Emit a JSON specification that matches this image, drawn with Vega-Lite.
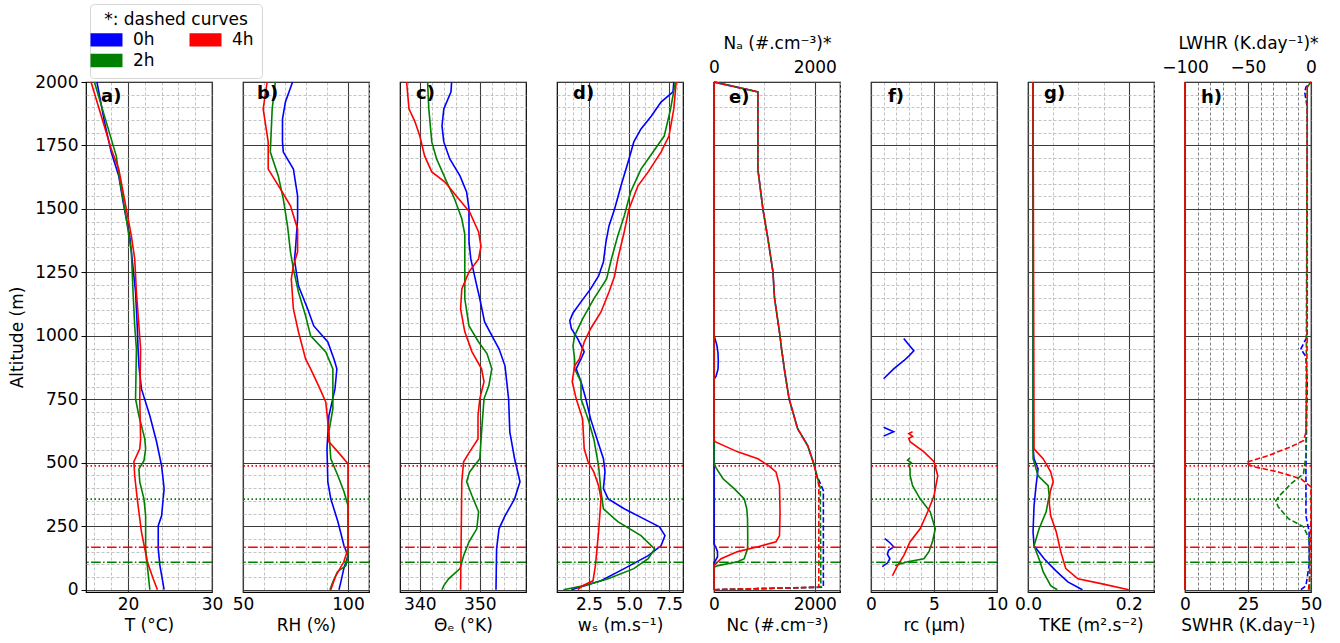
{
  "$schema": "https://vega.github.io/schema/vega-lite/v6.json",
  "padding": {"left": 8, "top": 3, "right": 4, "bottom": 4},
  "spacing": 31,
  "bounds": "flush",
  "datasets": {
    "T": [
      {"t":"0h","z":2000,"v":16.3},{"t":"0h","z":1843,"v":17.2},{"t":"0h","z":1724,"v":18.0},{"t":"0h","z":1630,"v":18.9},{"t":"0h","z":1512,"v":19.5},{"t":"0h","z":1394,"v":20.2},{"t":"0h","z":1300,"v":20.5},{"t":"0h","z":1173,"v":20.9},{"t":"0h","z":1039,"v":21.1},{"t":"0h","z":949,"v":21.2},{"t":"0h","z":882,"v":21.3},{"t":"0h","z":791,"v":21.6},{"t":"0h","z":685,"v":22.6},{"t":"0h","z":583,"v":23.4},{"t":"0h","z":488,"v":24.0},{"t":"0h","z":398,"v":24.3},{"t":"0h","z":291,"v":24.0},{"t":"0h","z":252,"v":23.6},{"t":"0h","z":161,"v":23.6},{"t":"0h","z":95,"v":23.8},{"t":"0h","z":0,"v":24.3},
      {"t":"2h","z":2000,"v":16.0},{"t":"2h","z":1709,"v":18.6},{"t":"2h","z":1618,"v":19.0},{"t":"2h","z":1461,"v":19.8},{"t":"2h","z":1331,"v":20.4},{"t":"2h","z":1173,"v":20.6},{"t":"2h","z":1039,"v":20.8},{"t":"2h","z":949,"v":21.0},{"t":"2h","z":752,"v":20.9},{"t":"2h","z":685,"v":21.3},{"t":"2h","z":594,"v":22.0},{"t":"2h","z":555,"v":22.1},{"t":"2h","z":508,"v":21.9},{"t":"2h","z":476,"v":21.3},{"t":"2h","z":425,"v":21.4},{"t":"2h","z":358,"v":21.9},{"t":"2h","z":291,"v":22.1},{"t":"2h","z":161,"v":22.1},{"t":"2h","z":95,"v":22.3},{"t":"2h","z":0,"v":22.6},
      {"t":"4h","z":2000,"v":15.6},{"t":"4h","z":1736,"v":18.0},{"t":"4h","z":1657,"v":18.9},{"t":"4h","z":1500,"v":19.8},{"t":"4h","z":1394,"v":20.4},{"t":"4h","z":1303,"v":20.8},{"t":"4h","z":1173,"v":21.0},{"t":"4h","z":1039,"v":21.3},{"t":"4h","z":949,"v":21.5},{"t":"4h","z":752,"v":21.4},{"t":"4h","z":594,"v":21.5},{"t":"4h","z":555,"v":21.4},{"t":"4h","z":504,"v":20.7},{"t":"4h","z":449,"v":20.8},{"t":"4h","z":358,"v":21.1},{"t":"4h","z":228,"v":21.6},{"t":"4h","z":161,"v":22.0},{"t":"4h","z":110,"v":22.3},{"t":"4h","z":43,"v":23.0},{"t":"4h","z":0,"v":23.5}
    ],
    "RH": [
      {"t":"0h","z":2000,"v":73.6},{"t":"0h","z":1921,"v":70.2},{"t":"0h","z":1854,"v":68.8},{"t":"0h","z":1764,"v":68.8},{"t":"0h","z":1724,"v":69.2},{"t":"0h","z":1657,"v":74.0},{"t":"0h","z":1551,"v":76.0},{"t":"0h","z":1461,"v":76.0},{"t":"0h","z":1343,"v":75.0},{"t":"0h","z":1300,"v":74.5},{"t":"0h","z":1197,"v":76.4},{"t":"0h","z":1106,"v":80.8},{"t":"0h","z":1039,"v":83.7},{"t":"0h","z":976,"v":90.4},{"t":"0h","z":909,"v":93.3},{"t":"0h","z":870,"v":94.7},{"t":"0h","z":791,"v":93.8},{"t":"0h","z":685,"v":90.9},{"t":"0h","z":555,"v":90.0},{"t":"0h","z":425,"v":90.4},{"t":"0h","z":358,"v":91.8},{"t":"0h","z":268,"v":95.2},{"t":"0h","z":173,"v":98.1},{"t":"0h","z":134,"v":100},{"t":"0h","z":83,"v":98},{"t":"0h","z":31,"v":96.6},{"t":"0h","z":0,"v":95.7},
      {"t":"2h","z":2000,"v":65.4},{"t":"2h","z":1894,"v":63.9},{"t":"2h","z":1724,"v":63.0},{"t":"2h","z":1630,"v":66.8},{"t":"2h","z":1539,"v":69.2},{"t":"2h","z":1433,"v":71.2},{"t":"2h","z":1331,"v":72.6},{"t":"2h","z":1264,"v":74.0},{"t":"2h","z":1173,"v":76.4},{"t":"2h","z":1079,"v":79.8},{"t":"2h","z":1000,"v":82.2},{"t":"2h","z":937,"v":89.4},{"t":"2h","z":870,"v":92.8},{"t":"2h","z":713,"v":92.8},{"t":"2h","z":622,"v":90.9},{"t":"2h","z":516,"v":91.8},{"t":"2h","z":449,"v":95.2},{"t":"2h","z":386,"v":98.1},{"t":"2h","z":331,"v":100},{"t":"2h","z":134,"v":100},{"t":"2h","z":95,"v":99},{"t":"2h","z":71,"v":95},{"t":"2h","z":31,"v":92.8},{"t":"2h","z":0,"v":91.4},
      {"t":"4h","z":2000,"v":61.5},{"t":"4h","z":1894,"v":59.6},{"t":"4h","z":1764,"v":62.0},{"t":"4h","z":1657,"v":62.0},{"t":"4h","z":1579,"v":67.8},{"t":"4h","z":1512,"v":72.6},{"t":"4h","z":1421,"v":76.0},{"t":"4h","z":1331,"v":76.0},{"t":"4h","z":1276,"v":74.0},{"t":"4h","z":1224,"v":73.0},{"t":"4h","z":1106,"v":74.0},{"t":"4h","z":1016,"v":76.4},{"t":"4h","z":909,"v":79.8},{"t":"4h","z":870,"v":82.2},{"t":"4h","z":803,"v":86.0},{"t":"4h","z":740,"v":89.4},{"t":"4h","z":661,"v":90.4},{"t":"4h","z":583,"v":90.9},{"t":"4h","z":543,"v":95.2},{"t":"4h","z":496,"v":100},{"t":"4h","z":161,"v":100},{"t":"4h","z":110,"v":98},{"t":"4h","z":55,"v":94.2},{"t":"4h","z":0,"v":91.8}
    ],
    "THE": [
      {"t":"0h","z":2000,"v":345.3},{"t":"0h","z":1961,"v":345.2},{"t":"0h","z":1894,"v":344.0},{"t":"0h","z":1827,"v":343.7},{"t":"0h","z":1764,"v":344.0},{"t":"0h","z":1697,"v":345.0},{"t":"0h","z":1630,"v":346.7},{"t":"0h","z":1567,"v":347.8},{"t":"0h","z":1500,"v":348.2},{"t":"0h","z":1370,"v":348.2},{"t":"0h","z":1303,"v":348.5},{"t":"0h","z":1197,"v":349.5},{"t":"0h","z":1146,"v":350.0},{"t":"0h","z":1055,"v":350.8},{"t":"0h","z":988,"v":352.3},{"t":"0h","z":949,"v":353.2},{"t":"0h","z":882,"v":354.2},{"t":"0h","z":752,"v":354.8},{"t":"0h","z":622,"v":355.0},{"t":"0h","z":516,"v":355.8},{"t":"0h","z":425,"v":356.7},{"t":"0h","z":358,"v":355.8},{"t":"0h","z":291,"v":354.2},{"t":"0h","z":240,"v":353.2},{"t":"0h","z":161,"v":352.8},{"t":"0h","z":0,"v":352.7},
      {"t":"2h","z":2000,"v":341.3},{"t":"2h","z":1894,"v":341.5},{"t":"2h","z":1764,"v":342.0},{"t":"2h","z":1697,"v":342.8},{"t":"2h","z":1606,"v":344.5},{"t":"2h","z":1539,"v":345.8},{"t":"2h","z":1461,"v":347.0},{"t":"2h","z":1400,"v":347.5},{"t":"2h","z":1276,"v":347.5},{"t":"2h","z":1146,"v":347.5},{"t":"2h","z":1039,"v":348.2},{"t":"2h","z":976,"v":349.8},{"t":"2h","z":930,"v":351.2},{"t":"2h","z":870,"v":352.0},{"t":"2h","z":803,"v":351.5},{"t":"2h","z":752,"v":350.7},{"t":"2h","z":622,"v":350.3},{"t":"2h","z":516,"v":350.0},{"t":"2h","z":464,"v":348.3},{"t":"2h","z":425,"v":347.8},{"t":"2h","z":370,"v":348.7},{"t":"2h","z":307,"v":349.8},{"t":"2h","z":240,"v":349.5},{"t":"2h","z":189,"v":348.2},{"t":"2h","z":134,"v":347.3},{"t":"2h","z":83,"v":346.7},{"t":"2h","z":43,"v":344.8},{"t":"2h","z":16,"v":344.0},{"t":"2h","z":0,"v":343.7},
      {"t":"4h","z":2000,"v":337.8},{"t":"4h","z":1894,"v":338.2},{"t":"4h","z":1843,"v":339.2},{"t":"4h","z":1787,"v":340.0},{"t":"4h","z":1709,"v":340.8},{"t":"4h","z":1646,"v":342.0},{"t":"4h","z":1606,"v":344.2},{"t":"4h","z":1539,"v":346.5},{"t":"4h","z":1488,"v":348.3},{"t":"4h","z":1409,"v":349.8},{"t":"4h","z":1354,"v":350.2},{"t":"4h","z":1303,"v":349.8},{"t":"4h","z":1252,"v":348.2},{"t":"4h","z":1185,"v":347.0},{"t":"4h","z":1106,"v":346.8},{"t":"4h","z":1016,"v":347.5},{"t":"4h","z":937,"v":348.7},{"t":"4h","z":870,"v":350.3},{"t":"4h","z":819,"v":350.7},{"t":"4h","z":752,"v":350.0},{"t":"4h","z":685,"v":349.7},{"t":"4h","z":594,"v":349.7},{"t":"4h","z":543,"v":348.3},{"t":"4h","z":504,"v":347.3},{"t":"4h","z":425,"v":347.0},{"t":"4h","z":0,"v":346.8}
    ],
    "WS": [
      {"t":"0h","z":2000,"v":7.8},{"t":"0h","z":1961,"v":7.75},{"t":"0h","z":1921,"v":7.0},{"t":"0h","z":1866,"v":6.4},{"t":"0h","z":1815,"v":5.75},{"t":"0h","z":1764,"v":5.3},{"t":"0h","z":1697,"v":5.0},{"t":"0h","z":1591,"v":4.5},{"t":"0h","z":1500,"v":4.1},{"t":"0h","z":1433,"v":3.75},{"t":"0h","z":1370,"v":3.56},{"t":"0h","z":1291,"v":3.4},{"t":"0h","z":1236,"v":3.1},{"t":"0h","z":1185,"v":2.6},{"t":"0h","z":1134,"v":2.0},{"t":"0h","z":1090,"v":1.5},{"t":"0h","z":1060,"v":1.3},{"t":"0h","z":1028,"v":1.4},{"t":"0h","z":988,"v":1.8},{"t":"0h","z":937,"v":2.2},{"t":"0h","z":909,"v":2.0},{"t":"0h","z":870,"v":1.7},{"t":"0h","z":819,"v":2.0},{"t":"0h","z":752,"v":2.3},{"t":"0h","z":673,"v":2.6},{"t":"0h","z":594,"v":3.0},{"t":"0h","z":516,"v":3.4},{"t":"0h","z":464,"v":3.5},{"t":"0h","z":398,"v":3.4},{"t":"0h","z":358,"v":3.7},{"t":"0h","z":319,"v":4.7},{"t":"0h","z":280,"v":5.9},{"t":"0h","z":248,"v":6.9},{"t":"0h","z":213,"v":7.25},{"t":"0h","z":173,"v":7.0},{"t":"0h","z":134,"v":6.2},{"t":"0h","z":83,"v":4.7},{"t":"0h","z":35,"v":3.25},{"t":"0h","z":12,"v":2.0},{"t":"0h","z":0,"v":1.4},
      {"t":"2h","z":2000,"v":7.9},{"t":"2h","z":1894,"v":7.6},{"t":"2h","z":1787,"v":7.2},{"t":"2h","z":1724,"v":6.5},{"t":"2h","z":1657,"v":5.75},{"t":"2h","z":1567,"v":5.1},{"t":"2h","z":1472,"v":4.7},{"t":"2h","z":1394,"v":4.3},{"t":"2h","z":1303,"v":3.9},{"t":"2h","z":1224,"v":3.6},{"t":"2h","z":1146,"v":2.8},{"t":"2h","z":1067,"v":2.1},{"t":"2h","z":1000,"v":1.6},{"t":"2h","z":961,"v":1.5},{"t":"2h","z":909,"v":1.6},{"t":"2h","z":870,"v":1.6},{"t":"2h","z":819,"v":2.0},{"t":"2h","z":752,"v":2.0},{"t":"2h","z":673,"v":2.44},{"t":"2h","z":594,"v":2.8},{"t":"2h","z":488,"v":3.1},{"t":"2h","z":386,"v":3.25},{"t":"2h","z":319,"v":3.4},{"t":"2h","z":268,"v":4.3},{"t":"2h","z":213,"v":5.75},{"t":"2h","z":161,"v":6.6},{"t":"2h","z":122,"v":6.2},{"t":"2h","z":83,"v":5.3},{"t":"2h","z":43,"v":3.7},{"t":"2h","z":16,"v":2.2},{"t":"2h","z":0,"v":0.9},
      {"t":"4h","z":2000,"v":7.95},{"t":"4h","z":1894,"v":7.8},{"t":"4h","z":1787,"v":7.5},{"t":"4h","z":1724,"v":7.0},{"t":"4h","z":1646,"v":6.2},{"t":"4h","z":1591,"v":5.56},{"t":"4h","z":1500,"v":5.0},{"t":"4h","z":1409,"v":4.7},{"t":"4h","z":1303,"v":4.3},{"t":"4h","z":1236,"v":4.1},{"t":"4h","z":1173,"v":3.75},{"t":"4h","z":1094,"v":3.25},{"t":"4h","z":1028,"v":2.6},{"t":"4h","z":976,"v":2.2},{"t":"4h","z":909,"v":1.9},{"t":"4h","z":882,"v":1.6},{"t":"4h","z":819,"v":1.45},{"t":"4h","z":752,"v":1.7},{"t":"4h","z":673,"v":2.1},{"t":"4h","z":555,"v":2.2},{"t":"4h","z":504,"v":2.44},{"t":"4h","z":464,"v":2.8},{"t":"4h","z":410,"v":3.1},{"t":"4h","z":358,"v":3.25},{"t":"4h","z":228,"v":3.1},{"t":"4h","z":95,"v":2.9},{"t":"4h","z":35,"v":2.75},{"t":"4h","z":16,"v":2.1},{"t":"4h","z":0,"v":1.8}
    ],
    "NC": [
      {"t":"0h","z":2000,"v":0},{"t":"0h","z":1000,"v":0},{"t":"0h","z":990,"v":20},{"t":"0h","z":960,"v":60},{"t":"0h","z":930,"v":80},{"t":"0h","z":900,"v":85},{"t":"0h","z":870,"v":80},{"t":"0h","z":840,"v":40},{"t":"0h","z":830,"v":0},{"t":"0h","z":180,"v":0},{"t":"0h","z":170,"v":30},{"t":"0h","z":150,"v":70},{"t":"0h","z":130,"v":70},{"t":"0h","z":115,"v":30},{"t":"0h","z":108,"v":0},{"t":"0h","z":0,"v":0},
      {"t":"2h","z":2000,"v":0},{"t":"2h","z":500,"v":0},{"t":"2h","z":480,"v":40},{"t":"2h","z":437,"v":180},{"t":"2h","z":398,"v":400},{"t":"2h","z":358,"v":600},{"t":"2h","z":319,"v":650},{"t":"2h","z":280,"v":665},{"t":"2h","z":200,"v":670},{"t":"2h","z":161,"v":665},{"t":"2h","z":122,"v":600},{"t":"2h","z":110,"v":470},{"t":"2h","z":95,"v":80},{"t":"2h","z":88,"v":0},{"t":"2h","z":0,"v":0},
      {"t":"4h","z":2000,"v":0},{"t":"4h","z":590,"v":0},{"t":"4h","z":583,"v":20},{"t":"4h","z":543,"v":470},{"t":"4h","z":516,"v":870},{"t":"4h","z":488,"v":1090},{"t":"4h","z":464,"v":1230},{"t":"4h","z":410,"v":1300},{"t":"4h","z":300,"v":1310},{"t":"4h","z":213,"v":1300},{"t":"4h","z":189,"v":1230},{"t":"4h","z":169,"v":870},{"t":"4h","z":150,"v":470},{"t":"4h","z":122,"v":140},{"t":"4h","z":95,"v":0},{"t":"4h","z":0,"v":0}
    ],
    "NA": [
      {"t":"0h","z":2000,"v":0},{"t":"0h","z":1961,"v":870},{"t":"0h","z":1657,"v":870},{"t":"0h","z":1579,"v":920},{"t":"0h","z":1500,"v":970},{"t":"0h","z":1382,"v":1070},{"t":"0h","z":1252,"v":1170},{"t":"0h","z":1150,"v":1200},{"t":"0h","z":1000,"v":1310},{"t":"0h","z":949,"v":1340},{"t":"0h","z":850,"v":1410},{"t":"0h","z":752,"v":1490},{"t":"0h","z":634,"v":1660},{"t":"0h","z":567,"v":1860},{"t":"0h","z":496,"v":1980},{"t":"0h","z":450,"v":2040},{"t":"0h","z":400,"v":2150},{"t":"0h","z":390,"v":2170},{"t":"0h","z":10,"v":2170},{"t":"0h","z":0,"v":0},
      {"t":"2h","z":2000,"v":0},{"t":"2h","z":1961,"v":870},{"t":"2h","z":1657,"v":870},{"t":"2h","z":1579,"v":920},{"t":"2h","z":1500,"v":970},{"t":"2h","z":1382,"v":1070},{"t":"2h","z":1252,"v":1170},{"t":"2h","z":1150,"v":1200},{"t":"2h","z":1000,"v":1310},{"t":"2h","z":949,"v":1340},{"t":"2h","z":850,"v":1410},{"t":"2h","z":752,"v":1490},{"t":"2h","z":634,"v":1660},{"t":"2h","z":567,"v":1860},{"t":"2h","z":496,"v":1980},{"t":"2h","z":450,"v":2040},{"t":"2h","z":400,"v":2110},{"t":"2h","z":10,"v":2120},{"t":"2h","z":0,"v":0},
      {"t":"4h","z":2000,"v":0},{"t":"4h","z":1961,"v":870},{"t":"4h","z":1657,"v":870},{"t":"4h","z":1579,"v":920},{"t":"4h","z":1500,"v":970},{"t":"4h","z":1382,"v":1070},{"t":"4h","z":1252,"v":1170},{"t":"4h","z":1150,"v":1200},{"t":"4h","z":1000,"v":1310},{"t":"4h","z":949,"v":1340},{"t":"4h","z":850,"v":1410},{"t":"4h","z":752,"v":1490},{"t":"4h","z":634,"v":1660},{"t":"4h","z":567,"v":1860},{"t":"4h","z":496,"v":1980},{"t":"4h","z":450,"v":2040},{"t":"4h","z":410,"v":2080},{"t":"4h","z":10,"v":2080},{"t":"4h","z":0,"v":0}
    ],
    "RC": [
      {"t":"0h","s":"a","z":990,"v":2.6},{"t":"0h","s":"a","z":965,"v":3.0},{"t":"0h","s":"a","z":941,"v":3.4},{"t":"0h","s":"a","z":920,"v":3.0},{"t":"0h","s":"a","z":902,"v":2.6},{"t":"0h","s":"a","z":870,"v":1.8},{"t":"0h","s":"a","z":831,"v":1.0},
      {"t":"0h","s":"b","z":640,"v":1.0},{"t":"0h","s":"b","z":622,"v":1.8},{"t":"0h","s":"b","z":605,"v":1.0},
      {"t":"0h","s":"c","z":201,"v":1.1},{"t":"0h","s":"c","z":185,"v":1.5},{"t":"0h","s":"c","z":169,"v":1.8},{"t":"0h","s":"c","z":155,"v":1.4},{"t":"0h","s":"c","z":140,"v":1.3},{"t":"0h","s":"c","z":122,"v":1.5},{"t":"0h","s":"c","z":105,"v":1.3},{"t":"0h","s":"c","z":91,"v":0.9},
      {"t":"2h","s":"a","z":520,"v":3.1},{"t":"2h","s":"a","z":510,"v":2.9},{"t":"2h","s":"a","z":500,"v":3.2},{"t":"2h","s":"a","z":490,"v":3.0},{"t":"2h","s":"a","z":476,"v":3.1},{"t":"2h","s":"a","z":450,"v":3.1},{"t":"2h","s":"a","z":410,"v":3.3},{"t":"2h","s":"a","z":358,"v":3.9},{"t":"2h","s":"a","z":307,"v":4.7},{"t":"2h","s":"a","z":240,"v":5.1},{"t":"2h","s":"a","z":193,"v":4.9},{"t":"2h","s":"a","z":150,"v":4.6},{"t":"2h","s":"a","z":122,"v":4.2},{"t":"2h","s":"a","z":110,"v":2.9},{"t":"2h","s":"a","z":95,"v":1.9},
      {"t":"4h","s":"a","z":622,"v":3.3},{"t":"4h","s":"a","z":615,"v":3.0},{"t":"4h","s":"a","z":605,"v":3.3},{"t":"4h","s":"a","z":595,"v":3.0},{"t":"4h","s":"a","z":583,"v":3.1},{"t":"4h","s":"a","z":543,"v":4.2},{"t":"4h","s":"a","z":504,"v":5.0},{"t":"4h","s":"a","z":449,"v":5.3},{"t":"4h","s":"a","z":370,"v":5.0},{"t":"4h","s":"a","z":307,"v":4.5},{"t":"4h","s":"a","z":240,"v":3.9},{"t":"4h","s":"a","z":189,"v":3.1},{"t":"4h","s":"a","z":134,"v":2.6},{"t":"4h","s":"a","z":95,"v":2.1},{"t":"4h","s":"a","z":55,"v":1.7}
    ],
    "TKE": [
      {"t":"0h","z":2000,"v":0.01},{"t":"0h","z":560,"v":0.01},{"t":"0h","z":516,"v":0.012},{"t":"0h","z":476,"v":0.02},{"t":"0h","z":410,"v":0.016},{"t":"0h","z":331,"v":0.012},{"t":"0h","z":228,"v":0.01},{"t":"0h","z":173,"v":0.012},{"t":"0h","z":122,"v":0.032},{"t":"0h","z":75,"v":0.055},{"t":"0h","z":31,"v":0.079},{"t":"0h","z":0,"v":0.108},
      {"t":"2h","z":2000,"v":0.01},{"t":"2h","z":555,"v":0.01},{"t":"2h","z":516,"v":0.01},{"t":"2h","z":449,"v":0.02},{"t":"2h","z":410,"v":0.04},{"t":"2h","z":370,"v":0.042},{"t":"2h","z":307,"v":0.036},{"t":"2h","z":240,"v":0.022},{"t":"2h","z":173,"v":0.012},{"t":"2h","z":110,"v":0.024},{"t":"2h","z":71,"v":0.03},{"t":"2h","z":16,"v":0.045},{"t":"2h","z":0,"v":0.058},
      {"t":"4h","z":2000,"v":0.01},{"t":"4h","z":555,"v":0.012},{"t":"4h","z":516,"v":0.03},{"t":"4h","z":464,"v":0.045},{"t":"4h","z":425,"v":0.05},{"t":"4h","z":386,"v":0.044},{"t":"4h","z":346,"v":0.042},{"t":"4h","z":291,"v":0.045},{"t":"4h","z":228,"v":0.056},{"t":"4h","z":150,"v":0.065},{"t":"4h","z":83,"v":0.075},{"t":"4h","z":43,"v":0.099},{"t":"4h","z":24,"v":0.145},{"t":"4h","z":0,"v":0.2}
    ],
    "SW": [
      {"t":"0h","z":2000,"v":0},{"t":"0h","z":0,"v":0},
      {"t":"2h","z":2000,"v":0},{"t":"2h","z":0,"v":0},
      {"t":"4h","z":2000,"v":0},{"t":"4h","z":0,"v":0}
    ],
    "LW": [
      {"t":"0h","z":2000,"v":0},{"t":"0h","z":1980,"v":-4},{"t":"0h","z":1960,"v":-5},{"t":"0h","z":1900,"v":-3},{"t":"0h","z":1000,"v":-3},{"t":"0h","z":988,"v":-4},{"t":"0h","z":949,"v":-8},{"t":"0h","z":917,"v":-4},{"t":"0h","z":819,"v":-3},{"t":"0h","z":488,"v":-4},{"t":"0h","z":291,"v":-4},{"t":"0h","z":228,"v":-1.5},{"t":"0h","z":97,"v":-1.5},{"t":"0h","z":16,"v":-4},{"t":"0h","z":0,"v":-8},
      {"t":"2h","z":2000,"v":0},{"t":"2h","z":1980,"v":-3},{"t":"2h","z":1900,"v":-3},{"t":"2h","z":528,"v":-4},{"t":"2h","z":457,"v":-6},{"t":"2h","z":417,"v":-16},{"t":"2h","z":370,"v":-25},{"t":"2h","z":350,"v":-28},{"t":"2h","z":327,"v":-26},{"t":"2h","z":280,"v":-18},{"t":"2h","z":248,"v":-6},{"t":"2h","z":201,"v":-1.5},{"t":"2h","z":0,"v":-1},
      {"t":"4h","z":2000,"v":0},{"t":"4h","z":1980,"v":-3},{"t":"4h","z":1000,"v":-3},{"t":"4h","z":620,"v":-4},{"t":"4h","z":587,"v":-6},{"t":"4h","z":563,"v":-16},{"t":"4h","z":528,"v":-34},{"t":"4h","z":504,"v":-50},{"t":"4h","z":496,"v":-51},{"t":"4h","z":484,"v":-45},{"t":"4h","z":464,"v":-26},{"t":"4h","z":437,"v":-8},{"t":"4h","z":405,"v":0},{"t":"4h","z":307,"v":0},{"t":"4h","z":200,"v":-0.5},{"t":"4h","z":50,"v":-1},{"t":"4h","z":0,"v":-2}
    ],
    "cloud": [
      {"t":"4h","k":"top","z":488},
      {"t":"2h","k":"top","z":357},
      {"t":"4h","k":"base","z":167},
      {"t":"2h","k":"base","z":108}
    ]
  },
  "hconcat": [
    {
      "width": 126, "height": 510,
      "title": {"text": "a)", "anchor": "start", "frame": "group", "dx": 15, "offset": -33, "baseline": "top", "fontSize": 18, "fontWeight": "bold"},
      "layer": [
        {
          "data": {"name": "T"},
          "mark": "line",
          "encoding": {
            "x": {"field": "v", "type": "quantitative", "scale": {"domain": [15, 30], "nice": false, "zero": false},
              "axis": {"title": "T (°C)", "values": [16, 18, 20, 22, 24, 26, 28, 30], "format": "d",
                "labelExpr": "datum.value % 10 === 0 ? datum.label : ''",
                "gridColor": {"condition": {"test": "datum.value % 10 === 0", "value": "#3c3c3c"}, "value": "#b4b4b4"},
                "gridDash": {"condition": {"test": "datum.value % 10 === 0", "value": []}, "value": [3, 2]},
                "gridWidth": {"condition": {"test": "datum.value % 10 === 0", "value": 1.1}, "value": 0.8}}},
            "y": {"field": "z", "type": "quantitative", "scale": {"domain": [-9, 2000], "nice": false, "zero": false},
              "axis": {"title": "Altitude (m)", "values": [0,50,100,150,200,250,300,350,400,450,500,550,600,650,700,750,800,850,900,950,1000,1050,1100,1150,1200,1250,1300,1350,1400,1450,1500,1550,1600,1650,1700,1750,1800,1850,1900,1950,2000],
                "format": "d", "labelExpr": "datum.value % 250 === 0 ? datum.label : ''",
                "ticks": true, "tickSize": 5, "tickColor": "black",
                "tickOpacity": {"condition": {"test": "datum.value % 250 === 0", "value": 1}, "value": 0},
                "labelPadding": 3, "titlePadding": 8,
                "gridColor": {"condition": {"test": "datum.value % 250 === 0", "value": "#3c3c3c"}, "value": "#b4b4b4"},
                "gridDash": {"condition": {"test": "datum.value % 250 === 0", "value": []}, "value": [3, 2]},
                "gridWidth": {"condition": {"test": "datum.value % 250 === 0", "value": 1.1}, "value": 0.8}}},
            "color": {"field": "t", "type": "nominal", "scale": {"domain": ["0h", "2h", "4h"], "range": ["blue", "green", "red"]},
              "legend": {"title": "*: dashed curves", "orient": "none", "legendX": 4, "legendY": -78, "columns": 2,
                "symbolType": "M-5.333,-2H5.333M-5.333,-1.667H5.333M-5.333,-1.333H5.333M-5.333,-1H5.333M-5.333,-0.667H5.333M-5.333,-0.333H5.333M-5.333,0H5.333M-5.333,0.333H5.333M-5.333,0.667H5.333M-5.333,1H5.333M-5.333,1.333H5.333M-5.333,1.667H5.333M-5.333,2H5.333",
                "symbolSize": 36, "symbolStrokeWidth": 1.3,
                "labelFontSize": 17, "titleFontSize": 17, "titleFontWeight": "normal", "titleAnchor": "middle",
                "labelOffset": 18, "columnPadding": 31, "rowPadding": 2, "titlePadding": 2, "padding": 8,
                "fillColor": "white", "strokeColor": "#d6d6d6", "cornerRadius": 4, "labelColor": "black", "titleColor": "black"}},
            "strokeWidth": {"value": 1.6},
            "order": {"field": "z", "type": "quantitative"}
          }
        },
        {
          "data": {"name": "cloud"},
          "mark": {"type": "rule", "strokeWidth": 1.6},
          "encoding": {
            "y": {"field": "z", "type": "quantitative", "scale": {"domain": [-9, 2000], "nice": false, "zero": false},
              "axis": {"title": "Altitude (m)", "values": [0,50,100,150,200,250,300,350,400,450,500,550,600,650,700,750,800,850,900,950,1000,1050,1100,1150,1200,1250,1300,1350,1400,1450,1500,1550,1600,1650,1700,1750,1800,1850,1900,1950,2000],
                "format": "d", "labelExpr": "datum.value % 250 === 0 ? datum.label : ''",
                "ticks": true, "tickSize": 5, "tickColor": "black",
                "tickOpacity": {"condition": {"test": "datum.value % 250 === 0", "value": 1}, "value": 0},
                "labelPadding": 3, "titlePadding": 8,
                "gridColor": {"condition": {"test": "datum.value % 250 === 0", "value": "#3c3c3c"}, "value": "#b4b4b4"},
                "gridDash": {"condition": {"test": "datum.value % 250 === 0", "value": []}, "value": [3, 2]},
                "gridWidth": {"condition": {"test": "datum.value % 250 === 0", "value": 1.1}, "value": 0.8}}},
            "color": {"field": "t", "type": "nominal", "scale": {"domain": ["0h", "2h", "4h"], "range": ["blue", "green", "red"]}, "legend": null},
            "strokeDash": {"field": "k", "type": "nominal", "scale": {"domain": ["top", "base"], "range": [[1.5, 2.5], [9.6, 2.4, 1.5, 2.4]]}, "legend": null}
          }
        }
      ]
    },
    {
      "width": 126, "height": 510,
      "title": {"text": "b)", "anchor": "start", "frame": "group", "dx": 14, "offset": -24, "baseline": "top", "fontSize": 18, "fontWeight": "bold"},
      "layer": [
        {
          "data": {"name": "RH"},
          "mark": "line",
          "encoding": {
            "x": {"field": "v", "type": "quantitative", "scale": {"domain": [50, 110], "nice": false, "zero": false},
              "axis": {"title": "RH (%)", "values": [50, 60, 70, 80, 90, 100, 110], "format": "d",
                "labelExpr": "datum.value % 50 === 0 ? datum.label : ''",
                "gridColor": {"condition": {"test": "datum.value % 50 === 0", "value": "#3c3c3c"}, "value": "#b4b4b4"},
                "gridDash": {"condition": {"test": "datum.value % 50 === 0", "value": []}, "value": [3, 2]},
                "gridWidth": {"condition": {"test": "datum.value % 50 === 0", "value": 1.1}, "value": 0.8}}},
            "y": {"field": "z", "type": "quantitative", "scale": {"domain": [-9, 2000], "nice": false, "zero": false},
              "axis": {"title": null, "labels": false, "ticks": false, "values": [0,50,100,150,200,250,300,350,400,450,500,550,600,650,700,750,800,850,900,950,1000,1050,1100,1150,1200,1250,1300,1350,1400,1450,1500,1550,1600,1650,1700,1750,1800,1850,1900,1950,2000],
                "gridColor": {"condition": {"test": "datum.value % 250 === 0", "value": "#3c3c3c"}, "value": "#b4b4b4"},
                "gridDash": {"condition": {"test": "datum.value % 250 === 0", "value": []}, "value": [3, 2]},
                "gridWidth": {"condition": {"test": "datum.value % 250 === 0", "value": 1.1}, "value": 0.8}}},
            "color": {"field": "t", "type": "nominal", "scale": {"domain": ["0h", "2h", "4h"], "range": ["blue", "green", "red"]}, "legend": null},
            "strokeWidth": {"value": 1.6},
            "order": {"field": "z", "type": "quantitative"}
          }
        },
        {
          "data": {"name": "cloud"},
          "mark": {"type": "rule", "strokeWidth": 1.6},
          "encoding": {
            "y": {"field": "z", "type": "quantitative", "scale": {"domain": [-9, 2000], "nice": false, "zero": false},
              "axis": {"title": null, "labels": false, "ticks": false, "values": [0,50,100,150,200,250,300,350,400,450,500,550,600,650,700,750,800,850,900,950,1000,1050,1100,1150,1200,1250,1300,1350,1400,1450,1500,1550,1600,1650,1700,1750,1800,1850,1900,1950,2000],
                "gridColor": {"condition": {"test": "datum.value % 250 === 0", "value": "#3c3c3c"}, "value": "#b4b4b4"},
                "gridDash": {"condition": {"test": "datum.value % 250 === 0", "value": []}, "value": [3, 2]},
                "gridWidth": {"condition": {"test": "datum.value % 250 === 0", "value": 1.1}, "value": 0.8}}},
            "color": {"field": "t", "type": "nominal", "scale": {"domain": ["0h", "2h", "4h"], "range": ["blue", "green", "red"]}, "legend": null},
            "strokeDash": {"field": "k", "type": "nominal", "scale": {"domain": ["top", "base"], "range": [[1.5, 2.5], [9.6, 2.4, 1.5, 2.4]]}, "legend": null}
          }
        }
      ]
    },
    {
      "width": 126, "height": 510,
      "title": {"text": "c)", "anchor": "start", "frame": "group", "dx": 16, "offset": -24, "baseline": "top", "fontSize": 18, "fontWeight": "bold"},
      "layer": [
        {
          "data": {"name": "THE"},
          "mark": "line",
          "encoding": {
            "x": {"field": "v", "type": "quantitative", "scale": {"domain": [336.7, 357.7], "nice": false, "zero": false},
              "axis": {"title": "Θₑ (°K)", "values": [338, 340, 342, 344, 346, 348, 350, 352, 354, 356], "format": "d",
                "labelExpr": "datum.value % 10 === 0 ? datum.label : ''",
                "gridColor": {"condition": {"test": "datum.value % 10 === 0", "value": "#3c3c3c"}, "value": "#b4b4b4"},
                "gridDash": {"condition": {"test": "datum.value % 10 === 0", "value": []}, "value": [3, 2]},
                "gridWidth": {"condition": {"test": "datum.value % 10 === 0", "value": 1.1}, "value": 0.8}}},
            "y": {"field": "z", "type": "quantitative", "scale": {"domain": [-9, 2000], "nice": false, "zero": false},
              "axis": {"title": null, "labels": false, "ticks": false, "values": [0,50,100,150,200,250,300,350,400,450,500,550,600,650,700,750,800,850,900,950,1000,1050,1100,1150,1200,1250,1300,1350,1400,1450,1500,1550,1600,1650,1700,1750,1800,1850,1900,1950,2000],
                "gridColor": {"condition": {"test": "datum.value % 250 === 0", "value": "#3c3c3c"}, "value": "#b4b4b4"},
                "gridDash": {"condition": {"test": "datum.value % 250 === 0", "value": []}, "value": [3, 2]},
                "gridWidth": {"condition": {"test": "datum.value % 250 === 0", "value": 1.1}, "value": 0.8}}},
            "color": {"field": "t", "type": "nominal", "scale": {"domain": ["0h", "2h", "4h"], "range": ["blue", "green", "red"]}, "legend": null},
            "strokeWidth": {"value": 1.6},
            "order": {"field": "z", "type": "quantitative"}
          }
        },
        {
          "data": {"name": "cloud"},
          "mark": {"type": "rule", "strokeWidth": 1.6},
          "encoding": {
            "y": {"field": "z", "type": "quantitative", "scale": {"domain": [-9, 2000], "nice": false, "zero": false},
              "axis": {"title": null, "labels": false, "ticks": false, "values": [0,50,100,150,200,250,300,350,400,450,500,550,600,650,700,750,800,850,900,950,1000,1050,1100,1150,1200,1250,1300,1350,1400,1450,1500,1550,1600,1650,1700,1750,1800,1850,1900,1950,2000],
                "gridColor": {"condition": {"test": "datum.value % 250 === 0", "value": "#3c3c3c"}, "value": "#b4b4b4"},
                "gridDash": {"condition": {"test": "datum.value % 250 === 0", "value": []}, "value": [3, 2]},
                "gridWidth": {"condition": {"test": "datum.value % 250 === 0", "value": 1.1}, "value": 0.8}}},
            "color": {"field": "t", "type": "nominal", "scale": {"domain": ["0h", "2h", "4h"], "range": ["blue", "green", "red"]}, "legend": null},
            "strokeDash": {"field": "k", "type": "nominal", "scale": {"domain": ["top", "base"], "range": [[1.5, 2.5], [9.6, 2.4, 1.5, 2.4]]}, "legend": null}
          }
        }
      ]
    },
    {
      "width": 126, "height": 510,
      "title": {"text": "d)", "anchor": "start", "frame": "group", "dx": 16, "offset": -24, "baseline": "top", "fontSize": 18, "fontWeight": "bold"},
      "layer": [
        {
          "data": {"name": "WS"},
          "mark": "line",
          "encoding": {
            "x": {"field": "v", "type": "quantitative", "scale": {"domain": [0.5, 8.375], "nice": false, "zero": false},
              "axis": {"title": "wₛ (m.s⁻¹)", "values": [1, 1.5, 2, 2.5, 3, 3.5, 4, 4.5, 5, 5.5, 6, 6.5, 7, 7.5, 8], "format": ".1f",
                "labelExpr": "datum.value % 2.5 === 0 ? datum.label : ''",
                "gridColor": {"condition": {"test": "datum.value % 2.5 === 0", "value": "#3c3c3c"}, "value": "#b4b4b4"},
                "gridDash": {"condition": {"test": "datum.value % 2.5 === 0", "value": []}, "value": [3, 2]},
                "gridWidth": {"condition": {"test": "datum.value % 2.5 === 0", "value": 1.1}, "value": 0.8}}},
            "y": {"field": "z", "type": "quantitative", "scale": {"domain": [-9, 2000], "nice": false, "zero": false},
              "axis": {"title": null, "labels": false, "ticks": false, "values": [0,50,100,150,200,250,300,350,400,450,500,550,600,650,700,750,800,850,900,950,1000,1050,1100,1150,1200,1250,1300,1350,1400,1450,1500,1550,1600,1650,1700,1750,1800,1850,1900,1950,2000],
                "gridColor": {"condition": {"test": "datum.value % 250 === 0", "value": "#3c3c3c"}, "value": "#b4b4b4"},
                "gridDash": {"condition": {"test": "datum.value % 250 === 0", "value": []}, "value": [3, 2]},
                "gridWidth": {"condition": {"test": "datum.value % 250 === 0", "value": 1.1}, "value": 0.8}}},
            "color": {"field": "t", "type": "nominal", "scale": {"domain": ["0h", "2h", "4h"], "range": ["blue", "green", "red"]}, "legend": null},
            "strokeWidth": {"value": 1.6},
            "order": {"field": "z", "type": "quantitative"}
          }
        },
        {
          "data": {"name": "cloud"},
          "mark": {"type": "rule", "strokeWidth": 1.6},
          "encoding": {
            "y": {"field": "z", "type": "quantitative", "scale": {"domain": [-9, 2000], "nice": false, "zero": false},
              "axis": {"title": null, "labels": false, "ticks": false, "values": [0,50,100,150,200,250,300,350,400,450,500,550,600,650,700,750,800,850,900,950,1000,1050,1100,1150,1200,1250,1300,1350,1400,1450,1500,1550,1600,1650,1700,1750,1800,1850,1900,1950,2000],
                "gridColor": {"condition": {"test": "datum.value % 250 === 0", "value": "#3c3c3c"}, "value": "#b4b4b4"},
                "gridDash": {"condition": {"test": "datum.value % 250 === 0", "value": []}, "value": [3, 2]},
                "gridWidth": {"condition": {"test": "datum.value % 250 === 0", "value": 1.1}, "value": 0.8}}},
            "color": {"field": "t", "type": "nominal", "scale": {"domain": ["0h", "2h", "4h"], "range": ["blue", "green", "red"]}, "legend": null},
            "strokeDash": {"field": "k", "type": "nominal", "scale": {"domain": ["top", "base"], "range": [[1.5, 2.5], [9.6, 2.4, 1.5, 2.4]]}, "legend": null}
          }
        }
      ]
    },
    {
      "width": 126, "height": 510,
      "title": {"text": "e)", "anchor": "start", "frame": "group", "dx": 15, "offset": -73, "baseline": "top", "fontSize": 18, "fontWeight": "bold"},
      "resolve": {"axis": {"x": "independent"}},
      "layer": [
        {
          "data": {"name": "NC"},
          "mark": "line",
          "encoding": {
            "x": {"field": "v", "type": "quantitative", "scale": {"domain": [0, 2500], "nice": false, "zero": false},
              "axis": {"orient": "bottom", "title": "Nc (#.cm⁻³)", "values": [0, 500, 1000, 1500, 2000, 2500], "format": "d",
                "labelExpr": "datum.value % 2000 === 0 ? datum.label : ''",
                "gridColor": {"condition": {"test": "datum.value % 2000 === 0", "value": "#3c3c3c"}, "value": "#b4b4b4"},
                "gridDash": {"condition": {"test": "datum.value % 2000 === 0", "value": []}, "value": [3, 2]},
                "gridWidth": {"condition": {"test": "datum.value % 2000 === 0", "value": 1.1}, "value": 0.8}}},
            "y": {"field": "z", "type": "quantitative", "scale": {"domain": [-9, 2000], "nice": false, "zero": false},
              "axis": {"title": null, "labels": false, "ticks": false, "values": [0,50,100,150,200,250,300,350,400,450,500,550,600,650,700,750,800,850,900,950,1000,1050,1100,1150,1200,1250,1300,1350,1400,1450,1500,1550,1600,1650,1700,1750,1800,1850,1900,1950,2000],
                "gridColor": {"condition": {"test": "datum.value % 250 === 0", "value": "#3c3c3c"}, "value": "#b4b4b4"},
                "gridDash": {"condition": {"test": "datum.value % 250 === 0", "value": []}, "value": [3, 2]},
                "gridWidth": {"condition": {"test": "datum.value % 250 === 0", "value": 1.1}, "value": 0.8}}},
            "color": {"field": "t", "type": "nominal", "scale": {"domain": ["0h", "2h", "4h"], "range": ["blue", "green", "red"]}, "legend": null},
            "strokeWidth": {"value": 1.6},
            "order": {"field": "z", "type": "quantitative"}
          }
        },
        {
          "data": {"name": "NA"},
          "mark": {"type": "line", "strokeDash": [5.5, 2.4]},
          "encoding": {
            "x": {"field": "v", "type": "quantitative", "scale": {"domain": [0, 2500], "nice": false, "zero": false},
              "axis": {"orient": "top", "title": "Nₐ (#.cm⁻³)*", "values": [0, 2000], "format": "d", "grid": false, "labelPadding": 6, "titlePadding": 6}},
            "y": {"field": "z", "type": "quantitative", "scale": {"domain": [-9, 2000], "nice": false, "zero": false},
              "axis": {"title": null, "labels": false, "ticks": false, "values": [0,50,100,150,200,250,300,350,400,450,500,550,600,650,700,750,800,850,900,950,1000,1050,1100,1150,1200,1250,1300,1350,1400,1450,1500,1550,1600,1650,1700,1750,1800,1850,1900,1950,2000],
                "gridColor": {"condition": {"test": "datum.value % 250 === 0", "value": "#3c3c3c"}, "value": "#b4b4b4"},
                "gridDash": {"condition": {"test": "datum.value % 250 === 0", "value": []}, "value": [3, 2]},
                "gridWidth": {"condition": {"test": "datum.value % 250 === 0", "value": 1.1}, "value": 0.8}}},
            "color": {"field": "t", "type": "nominal", "scale": {"domain": ["0h", "2h", "4h"], "range": ["blue", "green", "red"]}, "legend": null},
            "strokeWidth": {"value": 1.6},
            "order": {"field": "z", "type": "quantitative"}
          }
        },
        {
          "data": {"name": "cloud"},
          "mark": {"type": "rule", "strokeWidth": 1.6},
          "encoding": {
            "y": {"field": "z", "type": "quantitative", "scale": {"domain": [-9, 2000], "nice": false, "zero": false},
              "axis": {"title": null, "labels": false, "ticks": false, "values": [0,50,100,150,200,250,300,350,400,450,500,550,600,650,700,750,800,850,900,950,1000,1050,1100,1150,1200,1250,1300,1350,1400,1450,1500,1550,1600,1650,1700,1750,1800,1850,1900,1950,2000],
                "gridColor": {"condition": {"test": "datum.value % 250 === 0", "value": "#3c3c3c"}, "value": "#b4b4b4"},
                "gridDash": {"condition": {"test": "datum.value % 250 === 0", "value": []}, "value": [3, 2]},
                "gridWidth": {"condition": {"test": "datum.value % 250 === 0", "value": 1.1}, "value": 0.8}}},
            "color": {"field": "t", "type": "nominal", "scale": {"domain": ["0h", "2h", "4h"], "range": ["blue", "green", "red"]}, "legend": null},
            "strokeDash": {"field": "k", "type": "nominal", "scale": {"domain": ["top", "base"], "range": [[1.5, 2.5], [9.6, 2.4, 1.5, 2.4]]}, "legend": null}
          }
        }
      ]
    },
    {
      "width": 126, "height": 510,
      "title": {"text": "f)", "anchor": "start", "frame": "group", "dx": 17, "offset": -24, "baseline": "top", "fontSize": 18, "fontWeight": "bold"},
      "layer": [
        {
          "data": {"name": "RC"},
          "mark": "line",
          "encoding": {
            "x": {"field": "v", "type": "quantitative", "scale": {"domain": [0, 10], "nice": false, "zero": false},
              "axis": {"title": "rc (µm)", "values": [0, 1, 2, 3, 4, 5, 6, 7, 8, 9, 10], "format": "d",
                "labelExpr": "datum.value % 5 === 0 ? datum.label : ''",
                "gridColor": {"condition": {"test": "datum.value % 5 === 0", "value": "#3c3c3c"}, "value": "#b4b4b4"},
                "gridDash": {"condition": {"test": "datum.value % 5 === 0", "value": []}, "value": [3, 2]},
                "gridWidth": {"condition": {"test": "datum.value % 5 === 0", "value": 1.1}, "value": 0.8}}},
            "y": {"field": "z", "type": "quantitative", "scale": {"domain": [-9, 2000], "nice": false, "zero": false},
              "axis": {"title": null, "labels": false, "ticks": false, "values": [0,50,100,150,200,250,300,350,400,450,500,550,600,650,700,750,800,850,900,950,1000,1050,1100,1150,1200,1250,1300,1350,1400,1450,1500,1550,1600,1650,1700,1750,1800,1850,1900,1950,2000],
                "gridColor": {"condition": {"test": "datum.value % 250 === 0", "value": "#3c3c3c"}, "value": "#b4b4b4"},
                "gridDash": {"condition": {"test": "datum.value % 250 === 0", "value": []}, "value": [3, 2]},
                "gridWidth": {"condition": {"test": "datum.value % 250 === 0", "value": 1.1}, "value": 0.8}}},
            "color": {"field": "t", "type": "nominal", "scale": {"domain": ["0h", "2h", "4h"], "range": ["blue", "green", "red"]}, "legend": null},
            "strokeWidth": {"value": 1.6},
            "detail": {"field": "s", "type": "nominal"},
            "order": {"field": "z", "type": "quantitative"}
          }
        },
        {
          "data": {"name": "cloud"},
          "mark": {"type": "rule", "strokeWidth": 1.6},
          "encoding": {
            "y": {"field": "z", "type": "quantitative", "scale": {"domain": [-9, 2000], "nice": false, "zero": false},
              "axis": {"title": null, "labels": false, "ticks": false, "values": [0,50,100,150,200,250,300,350,400,450,500,550,600,650,700,750,800,850,900,950,1000,1050,1100,1150,1200,1250,1300,1350,1400,1450,1500,1550,1600,1650,1700,1750,1800,1850,1900,1950,2000],
                "gridColor": {"condition": {"test": "datum.value % 250 === 0", "value": "#3c3c3c"}, "value": "#b4b4b4"},
                "gridDash": {"condition": {"test": "datum.value % 250 === 0", "value": []}, "value": [3, 2]},
                "gridWidth": {"condition": {"test": "datum.value % 250 === 0", "value": 1.1}, "value": 0.8}}},
            "color": {"field": "t", "type": "nominal", "scale": {"domain": ["0h", "2h", "4h"], "range": ["blue", "green", "red"]}, "legend": null},
            "strokeDash": {"field": "k", "type": "nominal", "scale": {"domain": ["top", "base"], "range": [[1.5, 2.5], [9.6, 2.4, 1.5, 2.4]]}, "legend": null}
          }
        }
      ]
    },
    {
      "width": 126, "height": 510,
      "title": {"text": "g)", "anchor": "start", "frame": "group", "dx": 16, "offset": -24, "baseline": "top", "fontSize": 18, "fontWeight": "bold"},
      "layer": [
        {
          "data": {"name": "TKE"},
          "mark": "line",
          "encoding": {
            "x": {"field": "v", "type": "quantitative", "scale": {"domain": [0, 0.25], "nice": false, "zero": false},
              "axis": {"title": "TKE (m².s⁻²)", "values": [0, 0.05, 0.1, 0.15, 0.2, 0.25], "format": ".1f",
                "labelExpr": "(datum.value === 0 || abs(datum.value - 0.2) < 1e-9) ? datum.label : ''",
                "gridColor": {"condition": {"test": "datum.value === 0 || abs(datum.value - 0.2) < 1e-9", "value": "#3c3c3c"}, "value": "#b4b4b4"},
                "gridDash": {"condition": {"test": "datum.value === 0 || abs(datum.value - 0.2) < 1e-9", "value": []}, "value": [3, 2]},
                "gridWidth": {"condition": {"test": "datum.value === 0 || abs(datum.value - 0.2) < 1e-9", "value": 1.1}, "value": 0.8}}},
            "y": {"field": "z", "type": "quantitative", "scale": {"domain": [-9, 2000], "nice": false, "zero": false},
              "axis": {"title": null, "labels": false, "ticks": false, "values": [0,50,100,150,200,250,300,350,400,450,500,550,600,650,700,750,800,850,900,950,1000,1050,1100,1150,1200,1250,1300,1350,1400,1450,1500,1550,1600,1650,1700,1750,1800,1850,1900,1950,2000],
                "gridColor": {"condition": {"test": "datum.value % 250 === 0", "value": "#3c3c3c"}, "value": "#b4b4b4"},
                "gridDash": {"condition": {"test": "datum.value % 250 === 0", "value": []}, "value": [3, 2]},
                "gridWidth": {"condition": {"test": "datum.value % 250 === 0", "value": 1.1}, "value": 0.8}}},
            "color": {"field": "t", "type": "nominal", "scale": {"domain": ["0h", "2h", "4h"], "range": ["blue", "green", "red"]}, "legend": null},
            "strokeWidth": {"value": 1.6},
            "order": {"field": "z", "type": "quantitative"}
          }
        },
        {
          "data": {"name": "cloud"},
          "mark": {"type": "rule", "strokeWidth": 1.6},
          "encoding": {
            "y": {"field": "z", "type": "quantitative", "scale": {"domain": [-9, 2000], "nice": false, "zero": false},
              "axis": {"title": null, "labels": false, "ticks": false, "values": [0,50,100,150,200,250,300,350,400,450,500,550,600,650,700,750,800,850,900,950,1000,1050,1100,1150,1200,1250,1300,1350,1400,1450,1500,1550,1600,1650,1700,1750,1800,1850,1900,1950,2000],
                "gridColor": {"condition": {"test": "datum.value % 250 === 0", "value": "#3c3c3c"}, "value": "#b4b4b4"},
                "gridDash": {"condition": {"test": "datum.value % 250 === 0", "value": []}, "value": [3, 2]},
                "gridWidth": {"condition": {"test": "datum.value % 250 === 0", "value": 1.1}, "value": 0.8}}},
            "color": {"field": "t", "type": "nominal", "scale": {"domain": ["0h", "2h", "4h"], "range": ["blue", "green", "red"]}, "legend": null},
            "strokeDash": {"field": "k", "type": "nominal", "scale": {"domain": ["top", "base"], "range": [[1.5, 2.5], [9.6, 2.4, 1.5, 2.4]]}, "legend": null}
          }
        }
      ]
    },
    {
      "width": 126, "height": 510,
      "title": {"text": "h)", "anchor": "start", "frame": "group", "dx": 16, "offset": -73, "baseline": "top", "fontSize": 18, "fontWeight": "bold"},
      "resolve": {"scale": {"x": "independent"}},
      "layer": [
        {
          "data": {"name": "SW"},
          "mark": "line",
          "encoding": {
            "x": {"field": "v", "type": "quantitative", "scale": {"domain": [0, 50], "nice": false, "zero": false},
              "axis": {"orient": "bottom", "title": "SWHR (K.day⁻¹)", "values": [0, 5, 10, 15, 20, 25, 30, 35, 40, 45, 50], "format": "d",
                "labelExpr": "datum.value % 25 === 0 ? datum.label : ''",
                "gridColor": {"condition": {"test": "datum.value % 25 === 0", "value": "#3c3c3c"}, "value": "#707070"},
                "gridDash": {"condition": {"test": "datum.value % 25 === 0", "value": []}, "value": [3, 2]},
                "gridWidth": {"condition": {"test": "datum.value % 25 === 0", "value": 1.1}, "value": 0.9}}},
            "y": {"field": "z", "type": "quantitative", "scale": {"domain": [-9, 2000], "nice": false, "zero": false},
              "axis": {"title": null, "labels": false, "ticks": false, "values": [0,50,100,150,200,250,300,350,400,450,500,550,600,650,700,750,800,850,900,950,1000,1050,1100,1150,1200,1250,1300,1350,1400,1450,1500,1550,1600,1650,1700,1750,1800,1850,1900,1950,2000],
                "gridColor": {"condition": {"test": "datum.value % 250 === 0", "value": "#3c3c3c"}, "value": "#b4b4b4"},
                "gridDash": {"condition": {"test": "datum.value % 250 === 0", "value": []}, "value": [3, 2]},
                "gridWidth": {"condition": {"test": "datum.value % 250 === 0", "value": 1.1}, "value": 0.8}}},
            "color": {"field": "t", "type": "nominal", "scale": {"domain": ["0h", "2h", "4h"], "range": ["blue", "green", "red"]}, "legend": null},
            "strokeWidth": {"value": 1.6},
            "order": {"field": "z", "type": "quantitative"}
          }
        },
        {
          "data": {"name": "LW"},
          "mark": {"type": "line", "strokeDash": [5.5, 2.4]},
          "encoding": {
            "x": {"field": "v", "type": "quantitative", "scale": {"domain": [-100, 0], "nice": false, "zero": false},
              "axis": {"orient": "top", "title": "LWHR (K.day⁻¹)*", "values": [-100, -50, 0], "format": "d", "grid": false, "labelPadding": 6, "titlePadding": 6}},
            "y": {"field": "z", "type": "quantitative", "scale": {"domain": [-9, 2000], "nice": false, "zero": false},
              "axis": {"title": null, "labels": false, "ticks": false, "values": [0,50,100,150,200,250,300,350,400,450,500,550,600,650,700,750,800,850,900,950,1000,1050,1100,1150,1200,1250,1300,1350,1400,1450,1500,1550,1600,1650,1700,1750,1800,1850,1900,1950,2000],
                "gridColor": {"condition": {"test": "datum.value % 250 === 0", "value": "#3c3c3c"}, "value": "#b4b4b4"},
                "gridDash": {"condition": {"test": "datum.value % 250 === 0", "value": []}, "value": [3, 2]},
                "gridWidth": {"condition": {"test": "datum.value % 250 === 0", "value": 1.1}, "value": 0.8}}},
            "color": {"field": "t", "type": "nominal", "scale": {"domain": ["0h", "2h", "4h"], "range": ["blue", "green", "red"]}, "legend": null},
            "strokeWidth": {"value": 1.6},
            "order": {"field": "z", "type": "quantitative"}
          }
        },
        {
          "data": {"name": "cloud"},
          "mark": {"type": "rule", "strokeWidth": 1.6},
          "encoding": {
            "y": {"field": "z", "type": "quantitative", "scale": {"domain": [-9, 2000], "nice": false, "zero": false},
              "axis": {"title": null, "labels": false, "ticks": false, "values": [0,50,100,150,200,250,300,350,400,450,500,550,600,650,700,750,800,850,900,950,1000,1050,1100,1150,1200,1250,1300,1350,1400,1450,1500,1550,1600,1650,1700,1750,1800,1850,1900,1950,2000],
                "gridColor": {"condition": {"test": "datum.value % 250 === 0", "value": "#3c3c3c"}, "value": "#b4b4b4"},
                "gridDash": {"condition": {"test": "datum.value % 250 === 0", "value": []}, "value": [3, 2]},
                "gridWidth": {"condition": {"test": "datum.value % 250 === 0", "value": 1.1}, "value": 0.8}}},
            "color": {"field": "t", "type": "nominal", "scale": {"domain": ["0h", "2h", "4h"], "range": ["blue", "green", "red"]}, "legend": null},
            "strokeDash": {"field": "k", "type": "nominal", "scale": {"domain": ["top", "base"], "range": [[1.5, 2.5], [9.6, 2.4, 1.5, 2.4]]}, "legend": null}
          }
        }
      ]
    }
  ],
  "config": {
    "font": "DejaVu Sans",
    "view": {"stroke": "black", "strokeWidth": 1.2},
    "axis": {"labelFont": "DejaVu Sans", "titleFont": "DejaVu Sans", "labelFontSize": 17, "titleFontSize": 17, "titleFontWeight": "normal", "labelColor": "black", "titleColor": "black", "domain": false, "ticks": false, "labelPadding": 4, "titlePadding": 5, "grid": true, "labelOverlap": false, "labelFlush": false},
    "legend": {"labelFont": "DejaVu Sans", "titleFont": "DejaVu Sans"},
    "title": {"font": "DejaVu Sans", "color": "black"}
  }
}
